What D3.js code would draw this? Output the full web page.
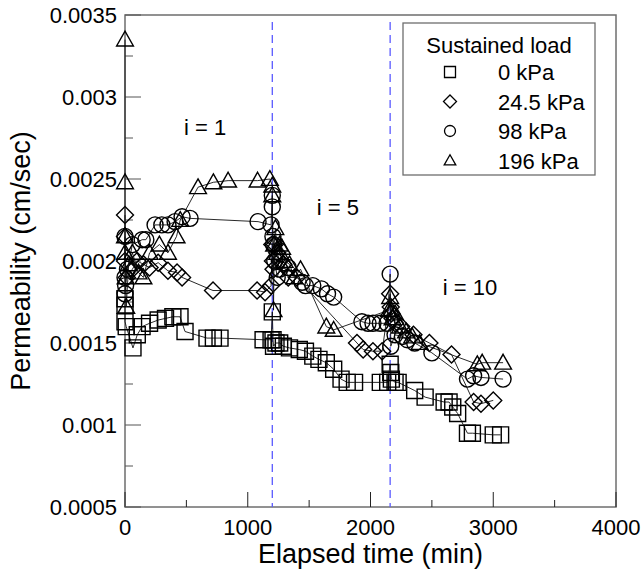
<!DOCTYPE html>
<html>
<head>
<meta charset="utf-8">
<script src="https://cdn.jsdelivr.net/npm/d3@7"></script>
<style>
  body { margin: 0; background: #fff; }
  svg { display: block; font-family: "Liberation Sans", Arial, sans-serif; }
</style>
</head>
<body>
<svg id="chart" width="643" height="573"></svg>
<script>
// tick values
const xTicks = [0, 1000, 2000, 3000, 4000]
const xMinor = [500, 1500, 2500, 3500]
const yTicks = [0.0005, 0.001, 0.0015, 0.002, 0.0025, 0.003, 0.0035]
const yMinor = [0.00075, 0.00125, 0.00175, 0.00225, 0.00275, 0.00325]

// hydraulic gradient changes (min)
const stageTimes = [1200, 2160]
const stageLabels = ['i = 1', 'i = 5', 'i = 10']

const seriesNames = ['0 kPa', '24.5 kPa', '98 kPa', '196 kPa']

// [elapsed time (min), permeability (cm/sec)]
const load0 = [
  [0, 0.00177], [0, 0.00173], [0, 0.00163], [10, 0.0016], [65, 0.00147], [100, 0.00155],
  [139, 0.0016], [200, 0.00162], [270, 0.00164], [330, 0.00165], [390, 0.00166], [448, 0.00166],
  [489, 0.00157], [668, 0.00153], [720, 0.00153], [774, 0.00153], [1125, 0.00152], [1190, 0.00152],
  [1200, 0.00169], [1206, 0.00152], [1210, 0.00148], [1230, 0.0015], [1260, 0.0015], [1290, 0.00148],
  [1340, 0.00147], [1420, 0.00146], [1470, 0.00145], [1530, 0.00142], [1580, 0.0014], [1640, 0.00138],
  [1700, 0.00134], [1760, 0.00128], [1810, 0.00126], [1870, 0.00126], [2080, 0.00126], [2140, 0.00126],
  [2160, 0.00137], [2165, 0.00132], [2170, 0.00128], [2200, 0.00126], [2225, 0.00126], [2360, 0.00121],
  [2445, 0.00117], [2600, 0.00114], [2640, 0.00114], [2670, 0.00111], [2710, 0.00107], [2790, 0.00095],
  [2830, 0.00095], [3000, 0.00094], [3060, 0.00094]
]
const load24 = [
  [0, 0.00228], [0, 0.00215], [0, 0.002], [15, 0.0019], [60, 0.00195], [100, 0.002],
  [150, 0.00198], [200, 0.00196], [270, 0.00199], [350, 0.00194], [424, 0.00193], [465, 0.0019],
  [717, 0.00182], [1076, 0.00182], [1141, 0.00181], [1190, 0.00185], [1200, 0.0021], [1205, 0.002],
  [1210, 0.00195], [1220, 0.0021], [1240, 0.00205], [1260, 0.002], [1290, 0.00198], [1330, 0.0019],
  [1400, 0.0019], [1890, 0.0015], [1940, 0.00146], [2020, 0.00145], [2095, 0.00145], [2160, 0.0018],
  [2165, 0.00172], [2170, 0.00168], [2180, 0.00165], [2200, 0.00162], [2250, 0.0016], [2350, 0.00155],
  [2480, 0.0015], [2660, 0.00143], [2840, 0.00114], [2900, 0.00113], [3000, 0.00115]
]
const load98 = [
  [0, 0.00215], [0, 0.0019], [0, 0.0018], [5, 0.00185], [20, 0.00195], [60, 0.0021],
  [140, 0.00213], [170, 0.00213], [245, 0.00222], [300, 0.00222], [350, 0.00222], [408, 0.00224],
  [465, 0.00227], [530, 0.00226], [1084, 0.00224], [1190, 0.00222], [1200, 0.0024], [1200, 0.00233],
  [1205, 0.00215], [1210, 0.0021], [1220, 0.002], [1240, 0.0019], [1260, 0.00195], [1330, 0.00196],
  [1443, 0.00187], [1470, 0.00185], [1530, 0.00185], [1600, 0.00183], [1650, 0.0018], [1700, 0.00178],
  [1930, 0.00163], [1980, 0.00162], [2020, 0.00162], [2080, 0.00162], [2135, 0.00162], [2160, 0.00192],
  [2165, 0.00148], [2200, 0.00155], [2260, 0.00154], [2300, 0.00152], [2360, 0.0015], [2500, 0.00144],
  [2790, 0.00128], [2840, 0.0013], [2900, 0.00129], [3080, 0.00128]
]
const load196 = [
  [0, 0.00335], [0, 0.00248], [0, 0.00215], [0, 0.00205], [5, 0.0019], [10, 0.00172],
  [30, 0.00198], [60, 0.00205], [110, 0.00193], [150, 0.0019], [200, 0.00205], [280, 0.0021],
  [350, 0.00205], [420, 0.00215], [450, 0.00225], [595, 0.00245], [720, 0.00248], [840, 0.00249],
  [1080, 0.00249], [1180, 0.0025], [1200, 0.00246], [1200, 0.0024], [1210, 0.0017], [1215, 0.0021],
  [1225, 0.0022], [1240, 0.00205], [1260, 0.0021], [1280, 0.00208], [1300, 0.002], [1340, 0.00198],
  [1380, 0.0019], [1430, 0.00195], [1640, 0.0016], [1700, 0.00158], [2150, 0.0017], [2160, 0.00178],
  [2170, 0.0017], [2180, 0.00165], [2200, 0.00168], [2240, 0.0016], [2290, 0.00157], [2340, 0.00154],
  [2400, 0.0015], [2870, 0.00137], [2910, 0.00138], [3080, 0.00138]
]
const seriesData = [load0, load24, load98, load196]

const margin = {top: 15, right: 27, bottom: 66, left: 125}
const width = 643 - margin.left - margin.right
const height = 573 - margin.top - margin.bottom

let svg = d3.select('#chart')
let g = svg.append('g').attr('transform', 'translate(' + [margin.left, margin.top] + ')')

let x = d3.scaleLinear().domain([0, 4000]).range([0, width])
let y = d3.scaleLinear().domain([0.0005, 0.0035]).range([height, 0])

// marker shapes, s = half size
let markers = [
  s => `M${-s},${-s}H${s}V${s}H${-s}Z`,
  s => `M0,${-s}L${s},0L0,${s}L${-s},0Z`,
  s => `M${-s},0A${s},${s} 0 1,0 ${s},0A${s},${s} 0 1,0 ${-s},0Z`,
  s => `M0,${-s * 1.05}L${s * 1.05},${s * 0.8}H${-s * 1.05}Z`
]

// frame
g.append('rect')
  .attr('width', width).attr('height', height)
  .attr('fill', 'none').attr('stroke', '#6e6e6e').attr('stroke-width', 1.5)

// ticks pointing inward
g.selectAll('.xmaj').data(xTicks).enter().append('line')
  .attr('x1', d => x(d)).attr('x2', d => x(d))
  .attr('y1', height).attr('y2', height - 15)
  .attr('stroke', '#222')
g.selectAll('.xmin').data(xMinor).enter().append('line')
  .attr('x1', d => x(d)).attr('x2', d => x(d))
  .attr('y1', height).attr('y2', height - 7)
  .attr('stroke', '#222')
g.selectAll('.ymaj').data(yTicks).enter().append('line')
  .attr('x1', 0).attr('x2', 16)
  .attr('y1', d => y(d)).attr('y2', d => y(d))
  .attr('stroke', '#555')
g.selectAll('.ymin').data(yMinor).enter().append('line')
  .attr('x1', 0).attr('x2', 8)
  .attr('y1', d => y(d)).attr('y2', d => y(d))
  .attr('stroke', '#555')

// tick labels
g.selectAll('.xlab').data(xTicks).enter().append('text')
  .attr('x', d => x(d)).attr('y', height + 28)
  .attr('text-anchor', 'middle').attr('font-size', 22)
  .text(d => d)
g.selectAll('.ylab').data(yTicks).enter().append('text')
  .attr('x', -8).attr('y', d => y(d) + 8)
  .attr('text-anchor', 'end').attr('font-size', 22)
  .text(d => d)

// axis titles
svg.append('text')
  .attr('x', margin.left + width / 2).attr('y', 563)
  .attr('text-anchor', 'middle').attr('font-size', 27)
  .text('Elapsed time (min)')
svg.append('text')
  .attr('transform', 'translate(30,' + (margin.top + height / 2) + ') rotate(-90)')
  .attr('text-anchor', 'middle').attr('font-size', 27)
  .text('Permeability (cm/sec)')

// gradient change lines
g.selectAll('.stage').data(stageTimes).enter().append('line')
  .attr('x1', d => x(d)).attr('x2', d => x(d))
  .attr('y1', 7).attr('y2', height)
  .attr('stroke', '#5a5aff').attr('stroke-width', 1.3)
  .attr('stroke-dasharray', '8,5')

// stage labels
let stagePos = [[652, 0.00277], [1735, 0.00228], [2810, 0.00179]]
g.selectAll('.slab').data(stageLabels).enter().append('text')
  .attr('x', (d, i) => x(stagePos[i][0])).attr('y', (d, i) => y(stagePos[i][1]))
  .attr('text-anchor', 'middle').attr('font-size', 22)
  .text(d => d)

// series lines and markers
let line = d3.line().x(d => x(d[0])).y(d => y(d[1]))

seriesData.forEach((data, k) => {
  g.append('path')
    .attr('d', line(data))
    .attr('fill', 'none').attr('stroke', '#111').attr('stroke-width', 0.9)

  g.selectAll('.m' + k).data(data).enter().append('path')
    .attr('transform', d => 'translate(' + [x(d[0]), y(d[1])] + ')')
    .attr('d', markers[k](k === 1 ? 8.5 : 8))
    .attr('fill', 'none').attr('stroke', '#000').attr('stroke-width', 1.4)
})

// legend
let legend = svg.append('g').attr('transform', 'translate(403,23)')
legend.append('rect')
  .attr('width', 192).attr('height', 152)
  .attr('fill', '#fff').attr('stroke', '#6e6e6e').attr('stroke-width', 1.3)
legend.append('text')
  .attr('x', 96).attr('y', 30)
  .attr('text-anchor', 'middle').attr('font-size', 22)
  .text('Sustained load')

seriesNames.forEach((name, k) => {
  let row = legend.append('g').attr('transform', 'translate(0,' + (49 + k * 29.5) + ')')
  row.append('path')
    .attr('transform', 'translate(47,0)')
    .attr('d', markers[k](k === 1 ? 6.5 : 5.5))
    .attr('fill', 'none').attr('stroke', '#000').attr('stroke-width', 1.3)
  row.append('text')
    .attr('x', 95).attr('y', 8)
    .attr('font-size', 22)
    .text(name)
})
</script>
</body>
</html>
